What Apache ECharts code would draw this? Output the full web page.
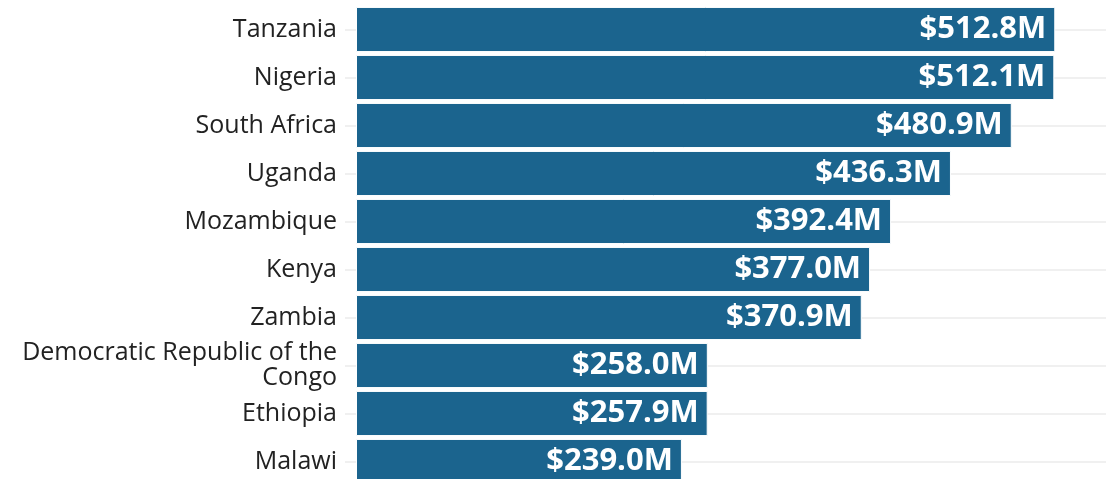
<!DOCTYPE html>
<html>
<head>
<meta charset="utf-8">
<script src="https://cdn.jsdelivr.net/npm/echarts@6/dist/echarts.min.js"></script>
<style>
html,body{margin:0;padding:0;background:#fff;overflow:hidden;}
#chart{width:1106px;height:490px;}
</style>
</head>
<body>
<div id="chart"></div>
<script>
const categories = ["Tanzania","Nigeria","South Africa","Uganda","Mozambique","Kenya","Zambia","Democratic Republic of the\nCongo","Ethiopia","Malawi"];
const values = [512.8, 512.1, 480.9, 436.3, 392.4, 377.0, 370.9, 258.0, 257.9, 239.0];

const chart = echarts.init(document.getElementById('chart'));
const font = '"Open Sans", "Noto Sans", sans-serif';
const catData = categories.map(c => c.indexOf('\n') >= 0
  ? {value: c, textStyle: {padding: [0, 0, 9, 0], lineHeight: 25}}
  : c);
chart.setOption({
  animation: false,
  grid: [
    {left: 356, right: 0, top: 5.5, height: 480, containLabel: false},
    {left: 345, right: 0, top: 29.5, height: 432, containLabel: false}
  ],
  xAxis: [
    {type: 'value', gridIndex: 0, min: 0, max: 550, show: false},
    {type: 'value', gridIndex: 1, min: 0, max: 1, show: false}
  ],
  yAxis: [
    {type: 'category', gridIndex: 0, inverse: true, data: catData,
     axisLine: {show: false}, axisTick: {show: false}, splitLine: {show: false},
     axisLabel: {margin: 19, fontFamily: font, fontSize: 25, color: '#222', lineHeight: 26, align: 'right'}},
    {type: 'category', gridIndex: 1, inverse: true, boundaryGap: false, data: categories,
     axisLine: {show: false}, axisTick: {show: false}, axisLabel: {show: false},
     splitLine: {show: true, lineStyle: {color: '#ebebeb', width: 1.5}}}
  ],
  series: [{
    type: 'bar', xAxisIndex: 0, yAxisIndex: 0, data: values,
    barCategoryGap: '6%',
    itemStyle: {color: '#1b648e', borderColor: '#ffffff', borderWidth: 1},
    label: {show: true, position: 'insideRight', distance: 9, color: '#fff',
      fontFamily: font, fontWeight: 'bold', fontSize: 31,
      formatter: p => '$' + p.value.toFixed(1) + 'M'}
  }]
});
</script>
</body>
</html>
